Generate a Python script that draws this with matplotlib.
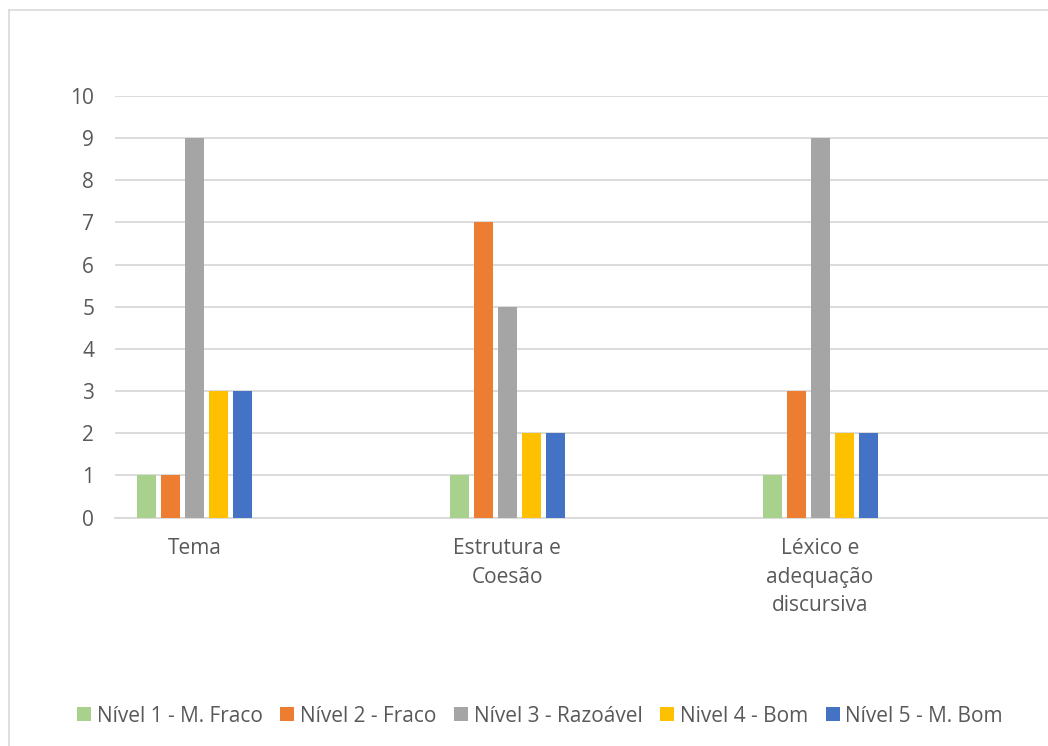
import numpy as np
import matplotlib.pyplot as plt
from matplotlib.patches import Patch
from matplotlib.lines import Line2D

categorias = ['Tema', 'Estrutura e\nCoesão', 'Léxico e\nadequação\ndiscursiva']
niveis = ['Nível 1 - M. Fraco', 'Nível 2 - Fraco', 'Nível 3 - Razoável',
          'Nivel 4 - Bom', 'Nível 5 - M. Bom']
nivel1 = [1, 1, 1]
nivel2 = [1, 7, 3]
nivel3 = [9, 5, 9]
nivel4 = [3, 2, 2]
nivel5 = [3, 2, 2]
cores = ['#A9D18E', '#ED7D31', '#A5A5A5', '#FFC000', '#4472C4']

plt.rcParams['font.family'] = ['Open Sans', 'DejaVu Sans']
txt = '#595959'
fs = 15

W, H = 1048, 746
fig = plt.figure(figsize=(W / 100, H / 100), dpi=100)

# borda do grafico (so topo e esquerda aparecem)
fig.add_artist(Line2D([9 / W, 1], [1 - 10 / H, 1 - 10 / H], color='#D9D9D9', lw=1.2))
fig.add_artist(Line2D([9 / W, 9 / W], [1 - 10 / H, 0], color='#D9D9D9', lw=1.2))

ax = fig.add_axes([115 / W, 1 - 517.5 / H, (W - 115) / W, (517.5 - 96) / H])

x = np.arange(len(categorias))
larg = 0.061
passo = 0.0768
series = [nivel1, nivel2, nivel3, nivel4, nivel5]
for i, (s, c, n) in enumerate(zip(series, cores, niveis)):
    ax.bar(x + (i - 2) * passo, s, width=larg, color=c, label=n, zorder=3)

ax.set_ylim(0, 10)
ax.set_xlim(-0.255, 2.729)
ax.set_yticks(range(0, 11))
ax.yaxis.grid(True, color='#D9D9D9', lw=1.3, zorder=0)
ax.set_axisbelow(True)
for sp in ['top', 'right', 'left']:
    ax.spines[sp].set_visible(False)
ax.spines['bottom'].set_color('#D9D9D9')
ax.spines['bottom'].set_linewidth(1.3)
ax.set_xticks(x)
ax.set_xticklabels(categorias, linespacing=1.45)
ax.tick_params(axis='both', length=0, labelsize=fs, labelcolor=txt)
ax.tick_params(axis='x', pad=15)
ax.tick_params(axis='y', pad=15)

handles = [Patch(facecolor=c, edgecolor='none') for c in cores]
fig.legend(handles, niveis, loc='center', bbox_to_anchor=(540 / W, 1 - 716 / H),
           ncol=5, frameon=False, fontsize=fs, labelcolor=txt,
           handlelength=0.67, handleheight=0.67, handletextpad=0.27,
           columnspacing=0.85)

fig.savefig('out.png', dpi=100)
